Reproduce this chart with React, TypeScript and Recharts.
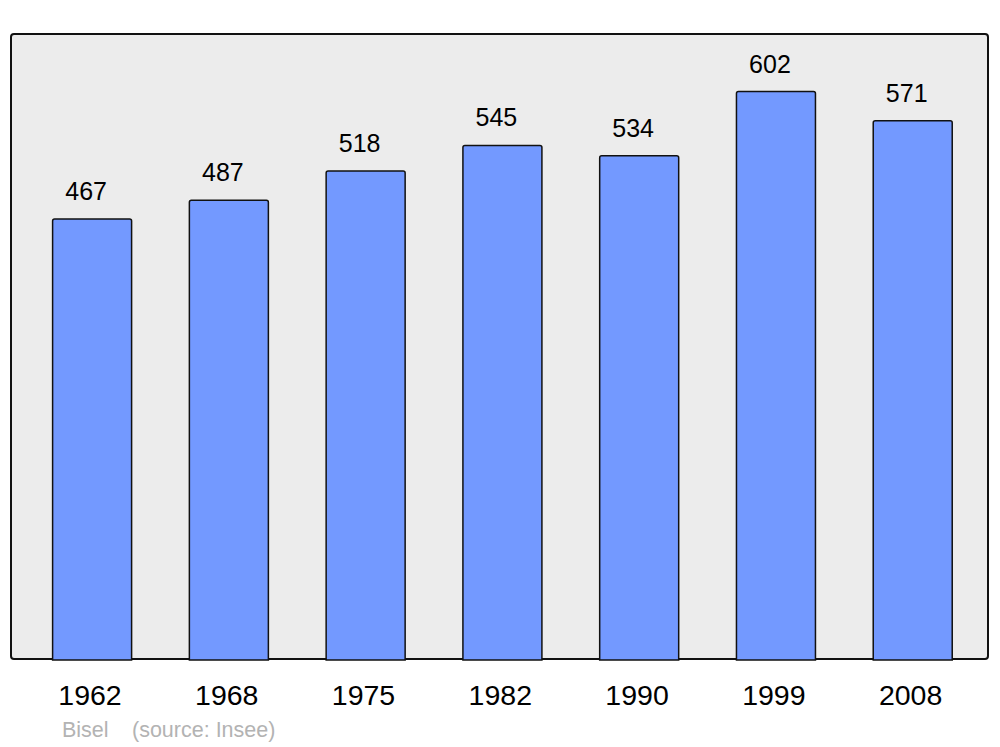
import { BarChart, Bar, XAxis, YAxis, LabelList } from "recharts";

const years = ["1962", "1968", "1975", "1982", "1990", "1999", "2008"];
const population = [467, 487, 518, 545, 534, 602, 571];

const data = years.map((year, i) => ({ year, population: population[i] }));

const FONT = "'Liberation Sans', Arial, sans-serif";

// value label above each bar, slightly left of center like the original
const ValueLabel = (props: any) => {
  const { x, y, width, value } = props;
  return (
    <text
      x={x + width / 2 - 6}
      y={y - 19}
      textAnchor="middle"
      fontSize={25}
      fontFamily={FONT}
      fill="#000"
    >
      {value}
    </text>
  );
};

export default function App() {
  return (
    <div style={{ position: "absolute", left: 0, top: 0, width: 1000, height: 747, background: "#fff", fontFamily: FONT }}>
      {/* plot frame */}
      <div
        style={{
          position: "absolute",
          left: 10,
          top: 33,
          width: 975,
          height: 623,
          border: "2.5px solid #111",
          borderRadius: 4,
          background: "#ececec",
        }}
      />
      <div style={{ position: "absolute", left: 0, top: 0 }}>
        <BarChart
          width={1000}
          height={747}
          data={data}
          margin={{ top: 34, right: 11, bottom: 0, left: 11 }}
          barSize={79}
        >
          <XAxis
            dataKey="year"
            axisLine={false}
            tickLine={false}
            tickSize={0}
            tickMargin={25}
            height={87}
            interval={0}
            padding={{ left: 12.6, right: 8 }}
            tick={{ fontSize: 28.5, fill: "#000", fontFamily: FONT, dx: -2 }}
          />
          <YAxis hide domain={[0, 663]} />
          <Bar
            dataKey="population"
            fill="#7399ff"
            stroke="#111"
            strokeWidth={1.5}
            radius={[2, 2, 0, 0]}
            isAnimationActive={false}
          >
            <LabelList dataKey="population" content={ValueLabel} />
          </Bar>
        </BarChart>
      </div>
      <div
        style={{
          position: "absolute",
          left: 62,
          top: 717,
          fontSize: 21.5,
          color: "#b3b3b3",
          whiteSpace: "pre",
          lineHeight: "26px",
        }}
      >
        <span>Bisel</span>
        <span style={{ position: "absolute", left: 70 }}>(source: Insee)</span>
      </div>
    </div>
  );
}
